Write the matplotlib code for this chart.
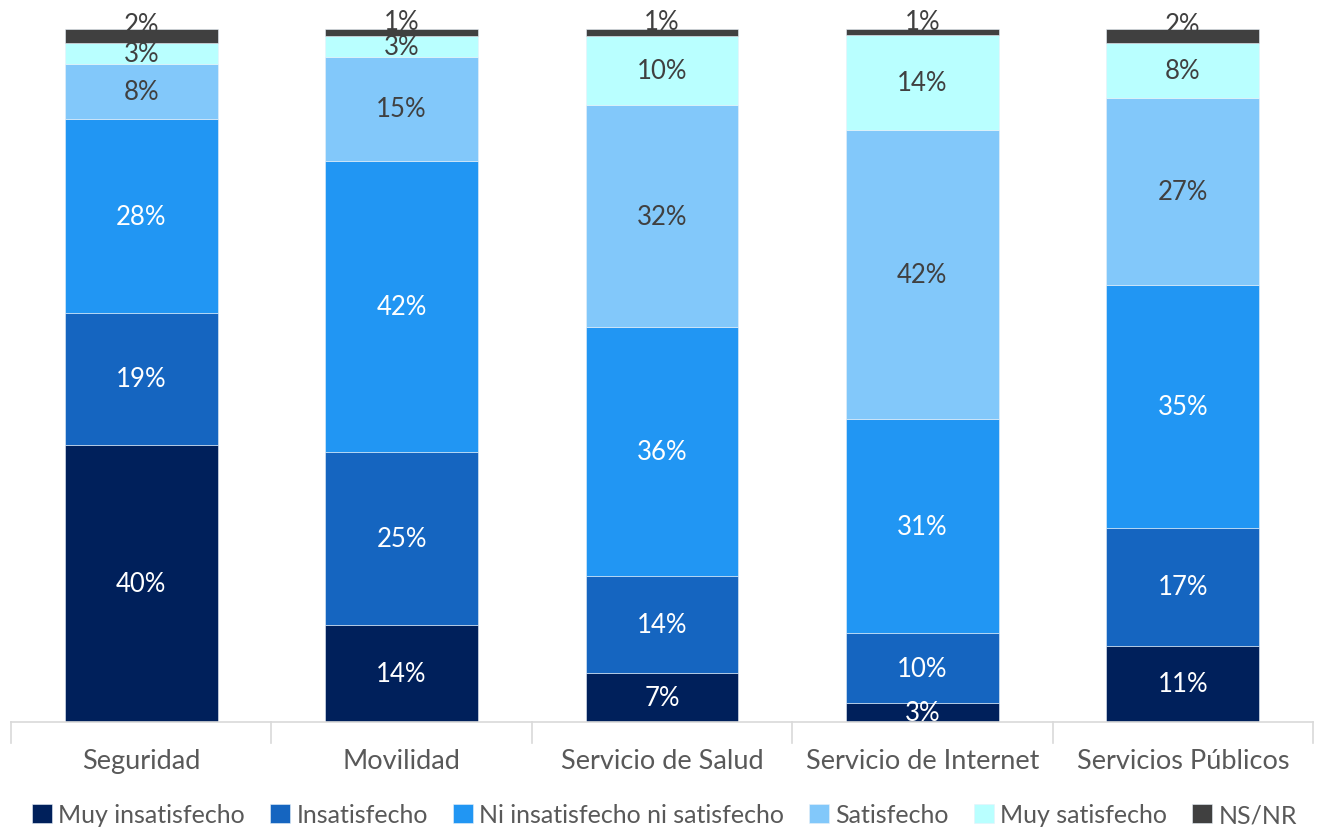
"""Stacked satisfaction bars by public service."""

import matplotlib.pyplot as plt
import numpy as np

categories = ["Seguridad", "Movilidad", "Servicio de Salud", "Servicio de Internet", "Servicios Públicos"]
series_names = ["Muy insatisfecho", "Insatisfecho", "Ni insatisfecho ni satisfecho",
                "Satisfecho", "Muy satisfecho", "NS/NR"]

muy_insatisfecho = [40, 14, 7, 2.7, 11]
insatisfecho = [19, 25, 14, 10.1, 17]
ni_ni = [28, 42, 36, 30.9, 35]
satisfecho = [8, 15, 32, 41.7, 27]
muy_satisfecho = [3, 3, 10, 13.7, 8]
ns_nr = [2, 1, 1, 0.9, 2]

series_values = [muy_insatisfecho, insatisfecho, ni_ni, satisfecho, muy_satisfecho, ns_nr]
colors = ["#00205b", "#1565c0", "#2196f3", "#82c8fa", "#b9ffff", "#404040"]
label_colors = ["white", "white", "white", "#404040", "#404040", "#404040"]

plt.rcParams["font.family"] = ["Lato", "DejaVu Sans"]

fig = plt.figure(figsize=(13.17, 8.29), dpi=100)
ax = fig.add_axes([11 / 1317, 106 / 829, 1302 / 1317, (723 - 30) / 829])

x = np.arange(len(categories))
bottom = np.zeros(len(categories))
for i, (name, values, color, tcolor) in enumerate(zip(series_names, series_values, colors, label_colors)):
    values = np.array(values, dtype=float)
    ax.bar(x, values, 0.587, bottom=bottom, color=color, label=name,
           edgecolor="#e8f0f8", linewidth=0.4)
    # the NS/NR slice is thin, so its label sits a bit above it
    lift = 8 if i == len(series_values) - 1 else 0
    for xi, b, v in zip(x, bottom, values):
        ax.annotate(f"{v:.0f}%", (xi, b + v / 2), xytext=(0, lift), textcoords="offset points",
                    ha="center", va="center", fontsize=18.5, color=tcolor)
    bottom += values

ax.set_xlim(-0.5, len(categories) - 0.5)
ax.set_ylim(0, 100)
ax.set_yticks([])
for side in ["top", "right", "left"]:
    ax.spines[side].set_visible(False)
ax.spines["bottom"].set_color("#d9d9d9")
ax.spines["bottom"].set_linewidth(1.2)
ax.set_xticks(x)
ax.set_xticklabels(categories, fontsize=19.5, color="#595959")
ax.tick_params(axis="x", length=0, pad=19)
for boundary in np.arange(-0.5, len(categories), 1.0):
    ax.plot([boundary, boundary], [0, -3], color="#d9d9d9", lw=1.2, clip_on=False)

fig.legend(loc="center", bbox_to_anchor=(0.5 + 6 / 1317, 13 / 829), ncol=6, frameon=False,
           fontsize=18, handlelength=0.8, handleheight=0.8, handletextpad=0.25,
           columnspacing=1.0, labelcolor="#595959")

fig.savefig("out.png", dpi=100)
